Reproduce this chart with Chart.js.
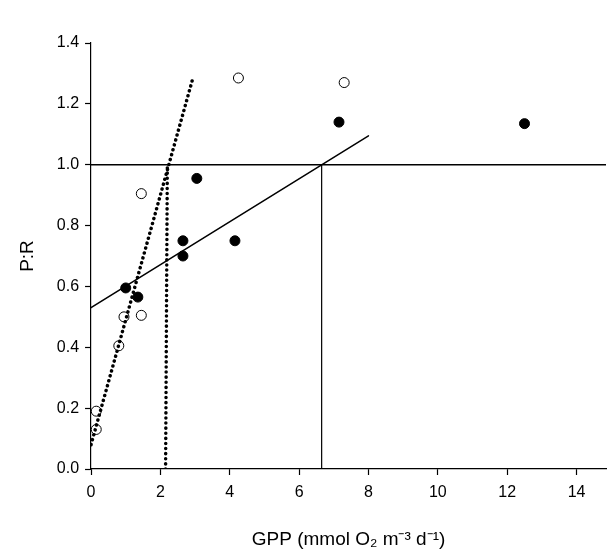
<!DOCTYPE html>
<html><head><meta charset="utf-8">
<script src="https://cdn.jsdelivr.net/npm/chart.js@4"></script>
<style>body{margin:0;background:#fff}#wrap{width:612px;height:553px}</style>
</head><body><div id="wrap"><canvas id="c"></canvas></div>
<script>
const filledX = [1.0, 1.35, 2.65, 2.65, 3.05, 4.15, 7.15, 12.5];
const filledY = [0.595, 0.565, 0.75, 0.70, 0.955, 0.75, 1.14, 1.135];
const openX = [0.15, 0.15, 0.8, 0.95, 1.45, 1.45, 4.25, 7.3];
const openY = [0.19, 0.13, 0.405, 0.5, 0.505, 0.905, 1.285, 1.27];
const solidFit = [[0, 0.53], [8, 1.095]];
const dottedFit = [[0, 0.08], [2.95, 1.29]];
const dottedVert = [[2.15, 0], [2.2, 1.0]];
const solidVert = [[6.65, 0], [6.65, 1.0]];
const refLine = [[0, 1.0], [15, 1.0]];
const xTicks = [0, 2, 4, 6, 8, 10, 12, 14];

const pts = (xs, ys) => xs.map((x, i) => ({x, y: ys[i]}));
const seg = a => a.map(p => ({x: p[0], y: p[1]}));
const line = (d, dash, w) => ({type: 'line', data: seg(d), borderColor: '#000', borderWidth: w, borderDash: dash, borderCapStyle: 'round', pointRadius: 0, showLine: true});
const grid = {display: true, drawOnChartArea: false, drawTicks: true, tickLength: 6, tickColor: '#000', tickWidth: 1.2};

new Chart(document.getElementById('c'), {
    type: 'scatter',
    data: {
        datasets: [
            line(refLine, [], 1.5),
            line(solidFit, [], 1.5),
            line(solidVert, [], 1.2),
            line(dottedFit, [0.1, 5], 3.5),
            line(dottedVert, [0.1, 5], 3.5),
            {data: pts(filledX, filledY), backgroundColor: '#000', borderColor: '#000', pointRadius: 5},
            {data: pts(openX, openY), backgroundColor: '#fff', borderColor: '#000', borderWidth: 1, pointRadius: 5}
        ]
    },
    options: {
        responsive: true, maintainAspectRatio: false, animation: false,
        layout: {padding: {top: 43, right: 0, left: 12, bottom: 0}},
        plugins: {legend: {display: false}, tooltip: {enabled: false}},
        scales: {
            x: {
                type: 'linear', min: 0, max: 14.85,
                afterBuildTicks: ax => { ax.ticks = xTicks.map(v => ({value: v})); },
                grid: grid,
                border: {color: '#000', width: 1.2},
                ticks: {color: '#000', padding: 8, font: {family: 'Arial', size: 16}},
                title: {display: true, text: 'GPP (mmol O₂ m⁻³ d⁻¹)', color: '#000', font: {family: 'Arial', size: 19}, padding: {top: 18, bottom: 2}}
            },
            y: {
                min: 0, max: 1.4,
                ticks: {stepSize: 0.2, color: '#000', padding: 6, font: {family: 'Arial', size: 16}, callback: v => v.toFixed(1)},
                grid: grid,
                border: {color: '#000', width: 1.2},
                title: {display: true, text: 'P:R', color: '#000', font: {family: 'Arial', size: 19}, padding: {bottom: 12}}
            }
        }
    }
});
</script></body></html>
